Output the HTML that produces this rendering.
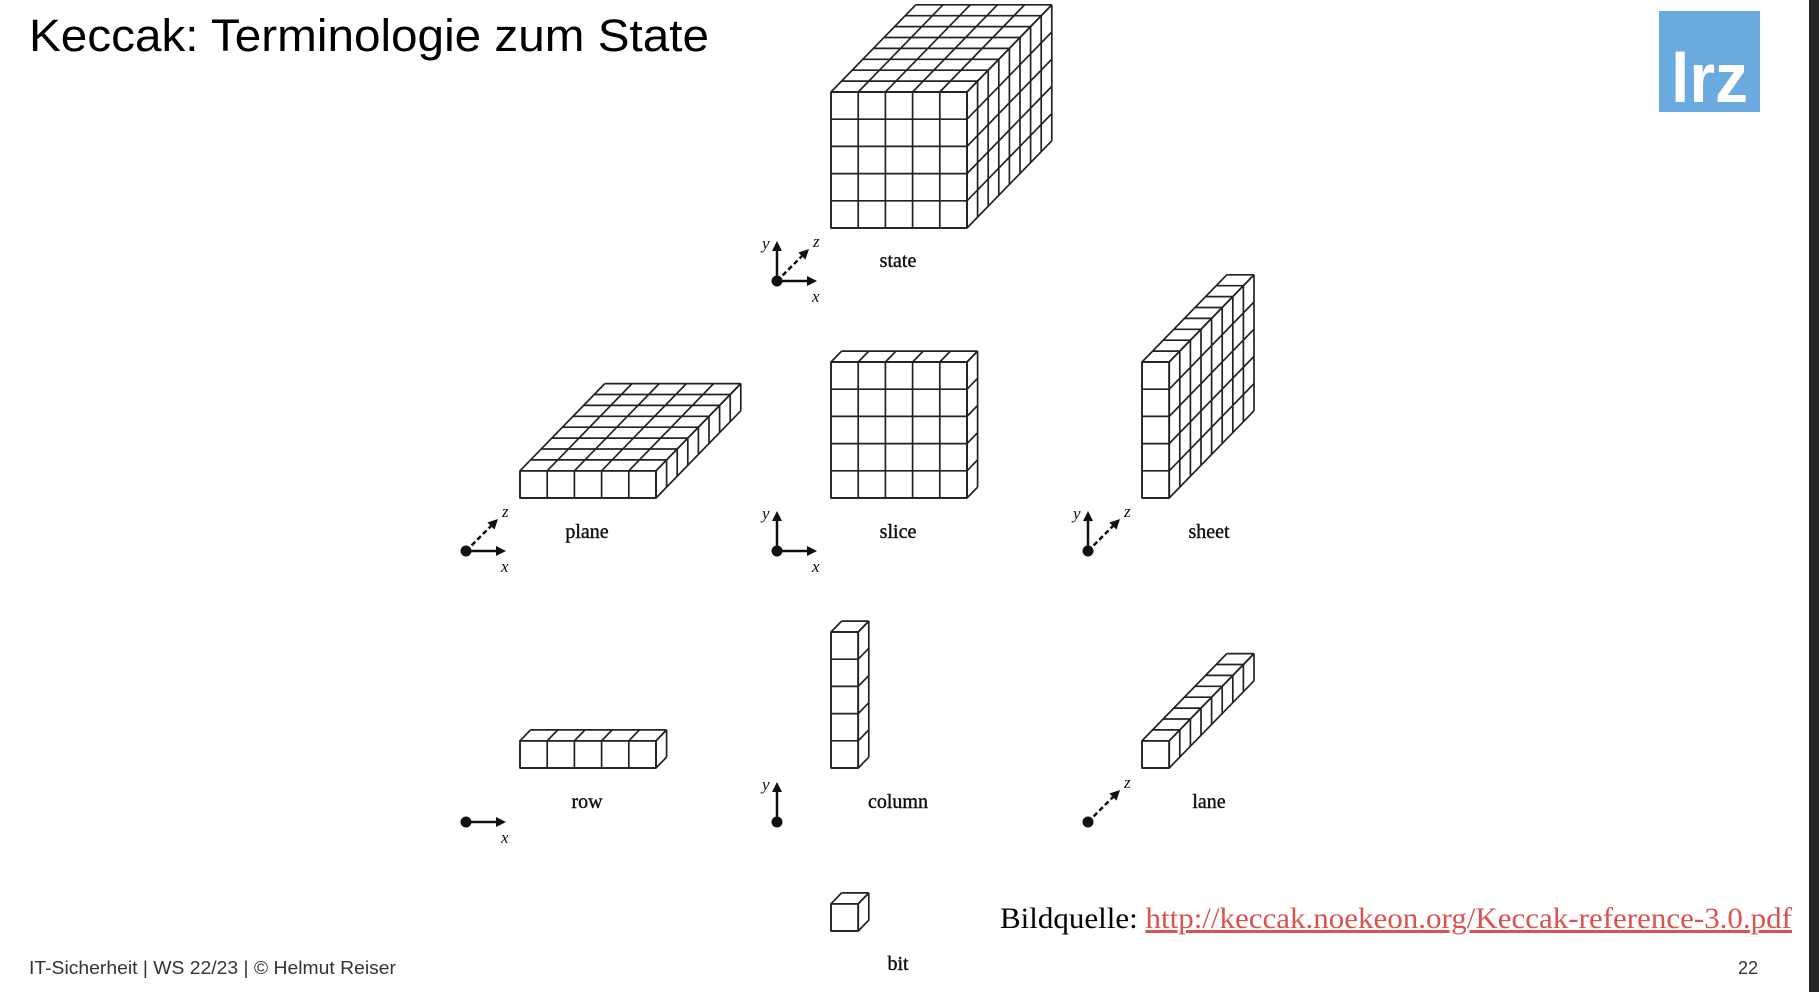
<!DOCTYPE html>
<html><head><meta charset="utf-8"><style>
html,body{margin:0;padding:0;background:#fff;}
body{width:1819px;height:992px;position:relative;overflow:hidden;}
svg{position:absolute;left:0;top:0;}
</style></head><body>
<svg id="s" width="1819" height="992" xmlns="http://www.w3.org/2000/svg">
<rect x="1809" y="0" width="10" height="992" fill="#262626"/>
<rect x="1659" y="11" width="101" height="101" fill="#6aaade"/>
<text x="1671" y="102" font-family="Liberation Sans, sans-serif" font-weight="bold" font-size="70" fill="#fff" textLength="77" lengthAdjust="spacingAndGlyphs">lrz</text>
<text x="29" y="51" font-family="Liberation Sans, sans-serif" font-size="45" fill="#000" textLength="680" lengthAdjust="spacingAndGlyphs">Keccak: Terminologie zum State</text>
<g id="cubes" fill="none" stroke="#222" stroke-width="1.7" stroke-linejoin="round"></g>
<g id="axes"></g>
<g font-family="Liberation Serif, serif" font-size="20" fill="#111" text-anchor="middle" stroke="#111" stroke-width="0.4">
<text x="898" y="267">state</text>
<text x="587" y="538">plane</text>
<text x="898" y="538">slice</text>
<text x="1209" y="538">sheet</text>
<text x="587" y="808">row</text>
<text x="898" y="808">column</text>
<text x="1209" y="808">lane</text>
<text x="898" y="970">bit</text>
</g>
<text x="1000" y="928" font-family="Liberation Serif, serif" font-size="30" fill="#000" textLength="792" lengthAdjust="spacingAndGlyphs">Bildquelle: <tspan fill="#d9534f" text-decoration="underline">http://keccak.noekeon.org/Keccak-reference-3.0.pdf</tspan></text>
<text x="29" y="974" font-family="Liberation Sans, sans-serif" font-size="18" fill="#333" textLength="367" lengthAdjust="spacingAndGlyphs">IT-Sicherheit | WS 22/23 | © Helmut Reiser</text>
<text x="1738" y="974" font-family="Liberation Sans, sans-serif" font-size="18" fill="#333">22</text>
</svg>
<script>
var g=document.getElementById('cubes'),out='';
function L(a,b,c,d){out+='<line x1="'+a.toFixed(1)+'" y1="'+b.toFixed(1)+'" x2="'+c.toFixed(1)+'" y2="'+d.toFixed(1)+'"/>';}
function cube(x0,y0,nx,ny,nz,s,dx,dy){
 var top=y0-ny*s, right=x0+nx*s;
 out+='<rect x="'+x0+'" y="'+top+'" width="'+nx*s+'" height="'+ny*s+'" fill="#fff"/>';
 for(var i=0;i<=nx;i++)L(x0+i*s,top,x0+i*s,y0);
 for(var j=0;j<=ny;j++)L(x0,top+j*s,right,top+j*s);
 for(var i=0;i<=nx;i++)L(x0+i*s,top,x0+i*s+nz*dx,top+nz*dy);
 for(var k=0;k<=nz;k++)L(x0+k*dx,top+k*dy,right+k*dx,top+k*dy);
 for(var j=0;j<=ny;j++)L(right,top+j*s,right+nz*dx,top+j*s+nz*dy);
 for(var k=0;k<=nz;k++)L(right+k*dx,top+k*dy,right+k*dx,y0+k*dy);
}
var s=27.2,dx=10.6,dy=-10.9;
cube(831,228,5,5,8,s,dx,dy);
cube(520,498,5,1,8,s,dx,dy);
cube(831,498,5,5,1,s,dx,dy);
cube(1142,498,1,5,8,s,dx,dy);
cube(520,768,5,1,1,s,dx,dy);
cube(831,768,1,5,1,s,dx,dy);
cube(1142,768,1,1,8,s,dx,dy);
cube(831,931,1,1,1,s,dx,dy);
g.innerHTML=out;
var a='';
function arrow(x1,y1,x2,y2,dash){
 var ang=Math.atan2(y2-y1,x2-x1),h=10,w=5;
 var bx=x2-h*Math.cos(ang),by=y2-h*Math.sin(ang);
 a+='<line x1="'+x1+'" y1="'+y1+'" x2="'+bx+'" y2="'+by+'" stroke="#111" stroke-width="2.5"'+(dash?' stroke-dasharray="5,3"':'')+'/>';
 a+='<polygon fill="#111" points="'+x2+','+y2+' '+(bx+w*Math.sin(ang))+','+(by-w*Math.cos(ang))+' '+(bx-w*Math.sin(ang))+','+(by+w*Math.cos(ang))+'"/>';
}
function lab(x,y,t){a+='<text x="'+x+'" y="'+y+'" font-family="Liberation Serif, serif" font-style="italic" font-size="17" fill="#111">'+t+'</text>';}
function ax(ox,oy,X,Y,Z){
 a+='<circle cx="'+ox+'" cy="'+oy+'" r="5.5" fill="#111"/>';
 if(X){arrow(ox,oy,ox+40,oy);lab(ox+35,oy+21,'x');}
 if(Y){arrow(ox,oy,ox,oy-40);lab(ox-15,oy-32,'y');}
 if(Z){arrow(ox,oy,ox+32,oy-32,true);lab(ox+36,oy-34,'z');}
}
ax(777,281,1,1,1);
ax(466,551,1,0,1);
ax(777,551,1,1,0);
ax(1088,551,0,1,1);
ax(466,822,1,0,0);
ax(777,822,0,1,0);
ax(1088,822,0,0,1);
document.getElementById('axes').innerHTML=a;
</script>
</body></html>
